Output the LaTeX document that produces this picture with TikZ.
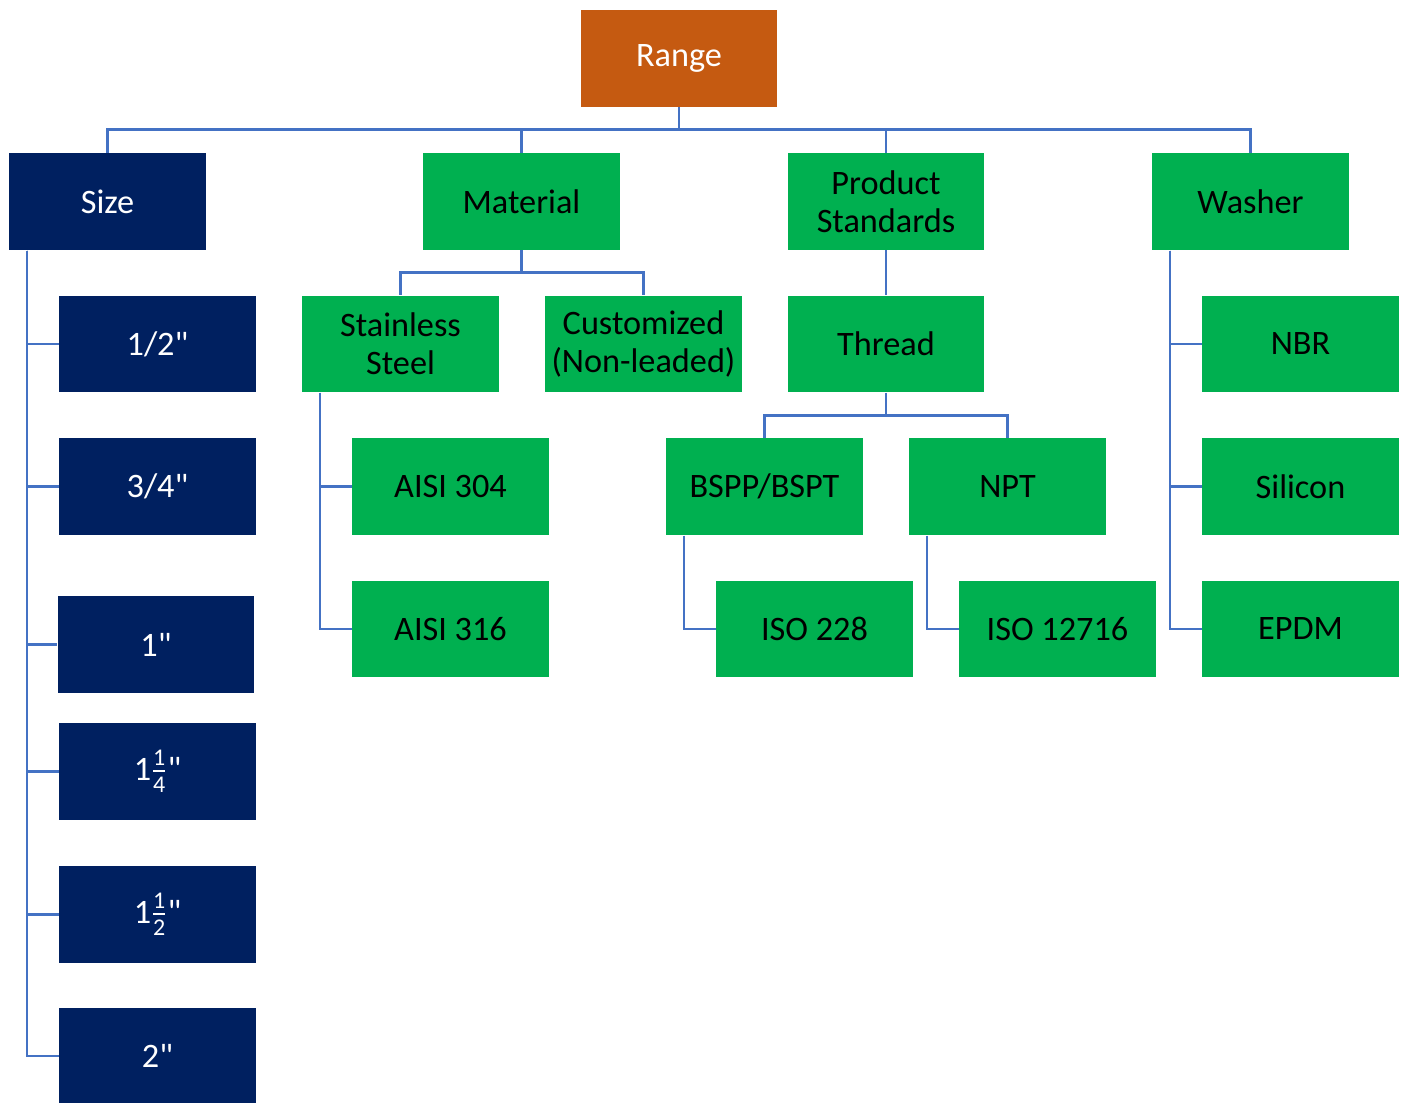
\documentclass[tikz,border=0pt]{standalone}
\usepackage{amsmath}
\usepackage{fontspec}
\setmainfont{Carlito}[Ligatures=TeXOff]
\usetikzlibrary{positioning}
\definecolor{rangeorange}{HTML}{C55A11}
\definecolor{sizeblue}{HTML}{002060}
\definecolor{itemgreen}{HTML}{00B050}
\definecolor{linkblue}{HTML}{4472C4}
\newcommand{\mixedfrac}[3]{#1$\frac{\text{#2}}{\text{#3}}$}
\tikzset{
  tree box/.style={
    rectangle,
    minimum width=3.94cm,
    minimum height=1.94cm,
    inner sep=0pt,
    align=center,
    font=\fontsize{19.5}{21.6}\selectfont,
  },
  top box/.style={tree box, fill=rangeorange, text=white},
  size box/.style={tree box, fill=sizeblue, text=white},
  green box/.style={tree box, fill=itemgreen, text=black},
  link/.style={draw=linkblue, line width=1.6pt},
}

\begin{document}
\begin{tikzpicture}[x=0.02cm, y=-0.02cm]
      \useasboundingbox (0,0) rectangle (1406,1102);
      \node[top box] (range) at (679,58.5) {Range};

      \node[size box] (size) at (107.5,201.5) {Size};
      \node[green box] (material) at (521.5,201.5) {Material};
      \node[green box] (prodstd) at (886,201.5) {Product\\Standards};
      \node[green box] (washer) at (1250.5,201.5) {Washer};

      \node[size box] (s1) at (157.5,344) {1/2"};
      \node[size box] (s2) at (157.5,486.5) {3/4"};
      \node[size box] (s3) at (156,644.5) {1"};
      \node[size box] (s4) at (157.5,771.5) {\mixedfrac{1}{1}{4}"};
      \node[size box] (s5) at (157.5,914.5) {\mixedfrac{1}{1}{2}"};
      \node[size box] (s6) at (157.5,1056) {2"};

      \node[green box] (stainless) at (400.5,344) {Stainless\\Steel};
      \node[green box] (custom) at (643.5,344) {Customized\\(Non-leaded)};
      \node[green box] (aisi304) at (450.5,486.5) {AISI 304};
      \node[green box] (aisi316) at (450.5,629) {AISI 316};

      \node[green box] (thread) at (886,344) {Thread};
      \node[green box] (bspp) at (764.5,486.5) {BSPP/BSPT};
      \node[green box] (npt) at (1007.5,486.5) {NPT};
      \node[green box] (iso228) at (814.5,629) {ISO 228};
      \node[green box] (iso12716) at (1057.5,629) {ISO 12716};

      \node[green box] (nbr) at (1300.5,344) {NBR};
      \node[green box] (silicon) at (1300.5,486.5) {Silicon};
      \node[green box] (epdm) at (1300.5,629) {EPDM};

      % top level bus
      \draw[link] (range.south) -- ++(0,22) -| (size.north);
      \draw[link] (range.south) -- ++(0,22) -| (material.north);
      \draw[link] (range.south) -- ++(0,22) -| (prodstd.north);
      \draw[link] (range.south) -- ++(0,22) -| (washer.north);

      \draw[link] (material.south) -- ++(0,22) -| (stainless.north);
      \draw[link] (material.south) -- ++(0,22) -| (custom.north);
      \draw[link] (prodstd) -- (thread);
      \draw[link] (thread.south) -- ++(0,23) -| (bspp.north);
      \draw[link] (thread.south) -- ++(0,23) -| (npt.north);

      % side trunks
      \coordinate (size trunk) at (27,250.5);
      \coordinate (steel trunk) at (320,392.5);
      \coordinate (bspp trunk) at (684,535.5);
      \coordinate (npt trunk) at (927,535.5);
      \coordinate (washer trunk) at (1170,250.5);

      \draw[link] (size trunk) |- (s1.west);
      \draw[link] (size trunk) |- (s2.west);
      \draw[link] (size trunk) |- (s3.west);
      \draw[link] (size trunk) |- (s4.west);
      \draw[link] (size trunk) |- (s5.west);
      \draw[link] (size trunk) |- (s6.west);
      \draw[link] (steel trunk) |- (aisi304.west);
      \draw[link] (steel trunk) |- (aisi316.west);
      \draw[link] (bspp trunk) |- (iso228.west);
      \draw[link] (npt trunk) |- (iso12716.west);
      \draw[link] (washer trunk) |- (nbr.west);
      \draw[link] (washer trunk) |- (silicon.west);
      \draw[link] (washer trunk) |- (epdm.west);
    \end{tikzpicture}
\end{document}
